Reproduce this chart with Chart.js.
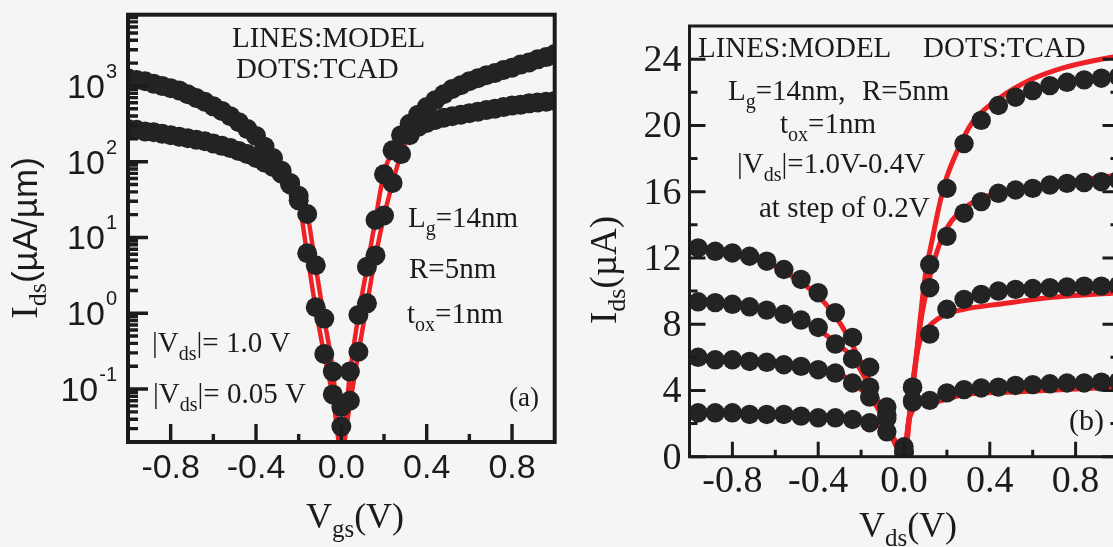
<!DOCTYPE html>
<html>
<head>
<meta charset="utf-8">
<title>Ids characteristics</title>
<script src="https://cdn.jsdelivr.net/npm/chart.js@4.4.0/dist/chart.umd.min.js"></script>
<style>
  html, body { margin: 0; padding: 0; background: #f5f5f5; overflow: hidden; }
  #wrap { position: relative; width: 1113px; height: 547px; overflow: hidden; }
  canvas { position: absolute; top: 0; }
  #chartA { left: 0; }
  #chartB { left: 560px; }
</style>
</head>
<body>
<div id="wrap">
  <canvas id="chartA" width="570" height="547"></canvas>
  <canvas id="chartB" width="580" height="547"></canvas>
</div>
<script>
// ---- panel (a): Ids vs Vgs, log scale ----
var vgsA = [-1.00,-0.96,-0.92,-0.88,-0.84,-0.80,-0.76,-0.72,-0.68,-0.64,-0.60,-0.56,-0.52,-0.48,-0.44,-0.40,-0.36,-0.32,-0.28,-0.24,-0.20,-0.16,-0.12,-0.08,-0.04,0.00,
            0.04,0.08,0.12,0.16,0.20,0.24,0.28,0.32,0.36,0.40,0.44,0.48,0.52,0.56,0.60,0.64,0.68,0.72,0.76,0.80,0.84,0.88,0.92,0.96,1.00];
// |Vds| = 1.0 V
var modelHiA = [1260,1200,1150,1070,1000,933,871,776,692,617,537,468,398,331,269,219,158,112,75.9,52.5,35.5,20.4,4.07,0.832,0.178,0.0151,
                0.158,0.933,3.98,17.4,70.8,141,224,316,417,525,646,776,912,1020,1150,1260,1380,1480,1620,1740,1910,2040,2240,2400,2630];
var tcadHiA  = [1260,1200,1150,1070,1000,933,871,776,692,617,537,468,398,331,269,219,158,112,75.9,52.5,35.5,20.4,4.3,0.85,0.17,0.032,
                0.17,0.95,4.1,17.0,68.0,141,224,316,417,525,646,776,912,1020,1150,1260,1380,1480,1620,1740,1910,2040,2240,2400,2630];
// |Vds| = 0.05 V
var modelLoA = [269,263,251,245,234,224,214,204,195,186,174,162,151,138,126,112,97.7,85.1,69.2,50.1,30.9,5.89,1.15,0.282,0.0794,0.0151,
                0.0631,0.302,1.32,5.62,19.1,52.5,126,224,288,324,355,380,398,417,437,457,479,501,525,550,562,589,603,617,631];
var tcadLoA  = [269,263,251,245,234,224,214,204,195,186,174,162,151,138,126,112,97.7,85.1,69.2,50.1,30.9,6.2,1.2,0.29,0.085,0.058,
                0.07,0.31,1.35,5.8,19.5,52.5,126,224,288,324,355,380,398,417,437,457,479,501,525,550,562,589,603,617,631];

var vgsTicks = [-0.8,-0.6,-0.4,-0.2,0,0.2,0.4,0.6,0.8];
var vgsLabels = ['-0.8','','-0.4','','0.0','','0.4','','0.8'];
var idsDecades = [0.1,1,10,100,1000];
var idsDecadeExp = ['-1','0','1','2','3'];

// ---- panel (b): Ids vs Vds, linear scale ----
var vdsDots = [-0.96,-0.88,-0.80,-0.72,-0.64,-0.56,-0.48,-0.40,-0.32,-0.24,-0.16,-0.08,0.00,
               0.04,0.12,0.20,0.28,0.36,0.44,0.52,0.60,0.68,0.76,0.84,0.92,1.00];
var tcad1B = [12.6,12.4,12.3,12.1,11.8,11.3,10.7,9.9,8.7,7.2,5.4,3.0,0.6, 4.2,11.6,16.2,18.9,20.3,21.2,21.7,22.1,22.4,22.6,22.75,22.85,22.95];
var tcad2B = [9.35,9.3,9.2,9.05,8.85,8.6,8.25,7.8,6.8,5.9,4.2,2.3,0.3, 4.2,10.2,13.3,14.7,15.4,15.9,16.1,16.2,16.4,16.5,16.55,16.6,16.7];
var tcad3B = [6.0,5.85,5.85,5.75,5.7,5.55,5.45,5.25,5.05,4.45,3.6,2.5,0.3, 3.4,7.4,8.9,9.5,9.8,10.0,10.1,10.15,10.2,10.25,10.3,10.3,10.35];
var tcad4B = [2.65,2.65,2.65,2.55,2.55,2.55,2.45,2.35,2.35,2.25,2.05,1.5,0.3, 3.3,3.4,3.85,4.05,4.15,4.2,4.3,4.35,4.4,4.45,4.45,4.5,4.55];

var model1Vds = [-1.0,-0.9,-0.8,-0.7,-0.6,-0.5,-0.4,-0.3,-0.235,-0.14,-0.078,-0.03,0,0.02,0.045,0.077,0.10,0.13,0.16,0.19,0.25,0.32,0.44,0.59,0.75,0.96,1.0];
var model1Ids = [12.8,12.6,12.4,12.0,11.5,10.7,9.7,8.1,6.6,4.0,2.05,0.6,0,2.0,4.5,8.5,11.0,13.0,14.9,16.5,18.5,20.2,21.6,22.75,23.5,24.1,24.2];
var model2Vds = [-1.0,-0.9,-0.8,-0.7,-0.6,-0.5,-0.4,-0.33,-0.28,-0.24,-0.14,-0.078,-0.03,0,0.04,0.08,0.11,0.14,0.18,0.22,0.28,0.36,0.5,0.7,1.0];
var model2Ids = [9.6,9.4,9.2,9.0,8.75,8.35,7.7,7.0,6.5,6.0,3.7,1.9,0.5,0,4.3,8.3,10.3,11.8,13.3,14.2,15.0,15.6,16.1,16.5,17.0];
var model3Vds = [-1.0,-0.8,-0.6,-0.4,-0.3,-0.24,-0.18,-0.14,-0.078,-0.03,0,0.04,0.07,0.10,0.18,0.28,0.44,0.67,1.0];
var model3Ids = [6.0,5.9,5.7,5.35,5.0,4.5,3.8,3.3,1.8,0.5,0,4.4,6.8,7.6,8.5,8.9,9.2,9.6,9.9];
var model4Vds = [-1.0,-0.8,-0.6,-0.4,-0.3,-0.2,-0.12,-0.06,-0.02,0,0.02,0.05,0.08,0.14,0.28,0.51,1.0];
var model4Ids = [2.7,2.65,2.55,2.4,2.3,2.15,1.9,1.3,0.5,0,2.0,3.0,3.25,3.3,3.75,3.9,4.2];

var vdsTicks = [-0.8,-0.6,-0.4,-0.2,0,0.2,0.4,0.6,0.8];
var vdsLabels = ['-0.8','','-0.4','','0.0','','0.4','','0.8'];
var idsTicksB = [0,2,4,6,8,10,12,14,16,18,20,22,24];

var INK = '#1b1b1b';
var RED = '#ee2226';
var DOT = '#232323';
var SERIF = '"Liberation Serif", "Times New Roman", serif';
var SANS = '"Liberation Sans", Arial, sans-serif';

function pairs(xs, ys) {
  return xs.map(function(x, i) { return {x: x, y: ys[i]}; });
}

function dotSet(xs, ys, r) {
  return {
    data: pairs(xs, ys), showLine: false,
    pointRadius: r, pointHoverRadius: r,
    pointBackgroundColor: DOT, pointBorderWidth: 0,
    clip: 0, order: 0
  };
}

function lineSet(xs, ys, w) {
  return {
    data: pairs(xs, ys), showLine: true,
    borderColor: RED, borderWidth: w, pointRadius: 0,
    cubicInterpolationMode: 'monotone', clip: 0, order: 1
  };
}

// text made of runs: [text, font, dy]
function run(ctx, x, y, parts, align) {
  var total = 0;
  parts.forEach(function(p) { ctx.font = p[1]; total += ctx.measureText(p[0]).width; });
  var cx = align === 'center' ? x - total / 2 : (align === 'right' ? x - total : x);
  ctx.textAlign = 'left';
  parts.forEach(function(p) {
    ctx.font = p[1];
    ctx.fillText(p[0], cx, y + (p[2] || 0));
    cx += ctx.measureText(p[0]).width;
  });
}

function note(ctx, x, y, main, sub, rest) {
  var f = '29px ' + SERIF;
  run(ctx, x, y, [[main, f], [sub, '20px ' + SERIF, 8], [rest, f]], 'left');
}

var axesA = {
  id: 'axesA',
  afterDatasetsDraw: function(chart) {
    var ctx = chart.ctx, a = chart.chartArea;
    var xs = chart.scales.x, ys = chart.scales.y;
    ctx.save();
    ctx.strokeStyle = INK;
    ctx.fillStyle = INK;
    ctx.textBaseline = 'alphabetic';

    // inward ticks
    ctx.lineWidth = 3.4;
    ctx.beginPath();
    vgsTicks.forEach(function(v, i) {
      var px = xs.getPixelForValue(v);
      ctx.moveTo(px, a.bottom);
      ctx.lineTo(px, a.bottom - (vgsLabels[i] ? 18 : 8));
    });
    for (var e = -2; e <= 3; e++) {
      for (var k = 1; k < 10; k++) {
        var v = k * Math.pow(10, e);
        if (v < ys.min || v > ys.max) continue;
        var py = ys.getPixelForValue(v);
        ctx.moveTo(a.left, py);
        ctx.lineTo(a.left + (k === 1 ? 20 : 10), py);
      }
    }
    ctx.stroke();

    ctx.lineWidth = 4;
    ctx.strokeRect(a.left, a.top, a.right - a.left, a.bottom - a.top);

    // decade labels 10^n
    idsDecades.forEach(function(v, i) {
      var py = ys.getPixelForValue(v);
      ctx.font = '20px ' + SANS;
      var ew = ctx.measureText(idsDecadeExp[i]).width;
      ctx.textAlign = 'left';
      ctx.fillText(idsDecadeExp[i], 117 - ew, py - 8);
      ctx.font = '34px ' + SANS;
      ctx.textAlign = 'right';
      ctx.fillText('10', 116 - ew, py + 12);
    });

    ctx.textAlign = 'center';
    ctx.font = '34px ' + SANS;
    vgsTicks.forEach(function(v, i) {
      if (vgsLabels[i]) ctx.fillText(vgsLabels[i], xs.getPixelForValue(v), 478);
    });

    // axis titles
    run(ctx, 355, 528, [['V', '36px ' + SERIF], ['gs', '25px ' + SERIF, 9], ['(V)', '36px ' + SERIF]], 'center');
    ctx.save();
    ctx.translate(37, 238);
    ctx.rotate(-Math.PI / 2);
    run(ctx, 0, 0, [['I', '38px ' + SERIF], ['ds', '26px ' + SERIF, 9], ['(\u00b5A/\u00b5m)', '35px ' + SANS]], 'center');
    ctx.restore();

    // annotations
    ctx.font = '29px ' + SERIF;
    ctx.textAlign = 'left';
    ctx.fillText('LINES:MODEL', 232, 47);
    ctx.fillText('DOTS:TCAD', 236, 78);
    note(ctx, 408, 227, 'L', 'g', '=14nm');
    ctx.font = '29px ' + SERIF;
    ctx.fillText('R=5nm', 409, 278);
    note(ctx, 407, 323, 't', 'ox', '=1nm');
    note(ctx, 152, 352, '|V', 'ds', '|= 1.0 V');
    note(ctx, 153, 403, '|V', 'ds', '|= 0.05 V');
    ctx.font = '27px ' + SERIF;
    ctx.textAlign = 'right';
    ctx.fillText('(a)', 539, 406);
    ctx.restore();
  }
};

var axesB = {
  id: 'axesB',
  afterDatasetsDraw: function(chart) {
    var ctx = chart.ctx, a = chart.chartArea;
    var xs = chart.scales.x, ys = chart.scales.y;
    ctx.save();
    ctx.strokeStyle = INK;
    ctx.fillStyle = INK;
    ctx.textBaseline = 'alphabetic';

    ctx.lineWidth = 3;
    ctx.beginPath();
    vdsTicks.forEach(function(v, i) {
      var px = xs.getPixelForValue(v);
      ctx.moveTo(px, a.bottom);
      ctx.lineTo(px, a.bottom - (vdsLabels[i] ? 15 : 7));
    });
    idsTicksB.forEach(function(v) {
      var py = ys.getPixelForValue(v);
      var len = v % 4 === 0 ? 16 : 8;
      ctx.moveTo(a.left, py);
      ctx.lineTo(a.left + len, py);
      ctx.moveTo(a.right, py);
      ctx.lineTo(a.right - len, py);
    });
    ctx.stroke();

    ctx.strokeRect(a.left, a.top, a.right - a.left, a.bottom - a.top);

    ctx.font = '38px ' + SERIF;
    ctx.textAlign = 'right';
    idsTicksB.forEach(function(v) {
      if (v % 4 === 0) ctx.fillText(String(v), a.left - 8, ys.getPixelForValue(v) + 12);
    });
    ctx.textAlign = 'center';
    vdsTicks.forEach(function(v, i) {
      if (vdsLabels[i]) ctx.fillText(vdsLabels[i], xs.getPixelForValue(v), 492);
    });

    // axis titles (canvas starts at page x = 560)
    run(ctx, 348, 537, [['V', '36px ' + SERIF], ['ds', '25px ' + SERIF, 9], ['(V)', '36px ' + SERIF]], 'center');
    ctx.save();
    ctx.translate(56, 270);
    ctx.rotate(-Math.PI / 2);
    run(ctx, 0, 0, [['I', '37px ' + SERIF], ['ds', '26px ' + SERIF, 9], ['(\u00b5A)', '37px ' + SERIF]], 'center');
    ctx.restore();

    ctx.font = '29px ' + SERIF;
    ctx.textAlign = 'left';
    ctx.fillText('LINES:MODEL', 138, 57);
    ctx.fillText('DOTS:TCAD', 363, 57);
    note(ctx, 168, 100, 'L', 'g', '=14nm,');
    ctx.font = '29px ' + SERIF;
    ctx.fillText('R=5nm', 302, 100);
    note(ctx, 220, 133, 't', 'ox', '=1nm');
    note(ctx, 177, 173, '|V', 'ds', '|=1.0V-0.4V');
    ctx.font = '29px ' + SERIF;
    ctx.fillText('at step of 0.2V', 199, 217);
    ctx.font = '30px ' + SERIF;
    ctx.fillText('(b)', 509, 430);
    ctx.restore();
  }
};

var chartA = new Chart(document.getElementById('chartA'), {
  type: 'scatter',
  data: {
    datasets: [
      dotSet(vgsA, tcadHiA, 10),
      dotSet(vgsA, tcadLoA, 10),
      lineSet(vgsA, modelHiA, 4.5),
      lineSet(vgsA, modelLoA, 4.5)
    ]
  },
  options: {
    responsive: false,
    animation: false,
    devicePixelRatio: 1,
    layout: { padding: { left: 128, top: 14.7, right: 15.3, bottom: 105 } },
    plugins: { legend: { display: false }, tooltip: { enabled: false } },
    scales: {
      x: { type: 'linear', min: -1, max: 1, display: false },
      y: { type: 'logarithmic', min: 0.02, max: 8700, display: false }
    }
  },
  plugins: [axesA]
});

var chartB = new Chart(document.getElementById('chartB'), {
  type: 'scatter',
  data: {
    datasets: [
      dotSet(vdsDots, tcad1B, 9.7),
      dotSet(vdsDots, tcad2B, 9.7),
      dotSet(vdsDots, tcad3B, 9.7),
      dotSet(vdsDots, tcad4B, 9.7),
      lineSet(model1Vds, model1Ids, 5),
      lineSet(model2Vds, model2Ids, 5),
      lineSet(model3Vds, model3Ids, 5),
      lineSet(model4Vds, model4Ids, 5)
    ]
  },
  options: {
    responsive: false,
    animation: false,
    devicePixelRatio: 1,
    layout: { padding: { left: 129.5, top: 26, right: 21.5, bottom: 90.3 } },
    plugins: { legend: { display: false }, tooltip: { enabled: false } },
    scales: {
      x: { type: 'linear', min: -1, max: 1, display: false },
      y: { type: 'linear', min: 0, max: 26, display: false }
    }
  },
  plugins: [axesB]
});
</script>
</body>
</html>
